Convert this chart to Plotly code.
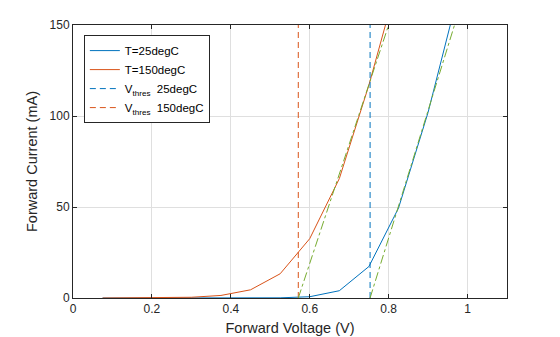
import plotly.graph_objects as go

# Data
voltage = [0.075, 0.15, 0.225, 0.3, 0.375, 0.45, 0.525, 0.6, 0.675, 0.75, 0.825, 0.9, 0.975]
current_25 = [0.0, 0.0, 0.0, 0.0, 0.01, 0.03, 0.1, 0.7, 4.0, 17.3, 49.4, 102.0, 166.0]
current_150 = [0.0, 0.02, 0.1, 0.4, 1.4, 4.5, 13.3, 32.6, 65.6, 117.0, 176.0, 240.0, 310.0]

vthres_25 = 0.753
vthres_150 = 0.571
tangent_25_x = [0.753, 0.967]
tangent_25_y = [0, 150]
tangent_150_x = [0.571, 0.800]
tangent_150_y = [0, 150]

blue = "#0072BD"
orange = "#D95319"
green = "#77AC30"

fig = go.Figure()
fig.add_trace(go.Scatter(x=voltage, y=current_25, mode="lines", name="T=25degC",
                         line=dict(color=blue, width=1)))
fig.add_trace(go.Scatter(x=voltage, y=current_150, mode="lines", name="T=150degC",
                         line=dict(color=orange, width=1)))
fig.add_trace(go.Scatter(x=[vthres_25, vthres_25], y=[0, 150], mode="lines",
                         name="V<sub>thres</sub>  25degC",
                         line=dict(color=blue, width=1, dash="6px,4px")))
fig.add_trace(go.Scatter(x=[vthres_150, vthres_150], y=[0, 150], mode="lines",
                         name="V<sub>thres</sub>  150degC",
                         line=dict(color=orange, width=1, dash="6px,4px")))
fig.add_trace(go.Scatter(x=tangent_25_x, y=tangent_25_y, mode="lines", showlegend=False,
                         line=dict(color=green, width=1, dash="dashdot")))
fig.add_trace(go.Scatter(x=tangent_150_x, y=tangent_150_y, mode="lines", showlegend=False,
                         line=dict(color=green, width=1, dash="dashdot")))

axis_common = dict(
    showline=True, linecolor="#262626", linewidth=1, mirror="ticks",
    ticks="inside", ticklen=4, tickcolor="#262626",
    showgrid=True, gridcolor="#DFDFDF", gridwidth=1,
    zeroline=False, automargin=False,
    tickfont=dict(family="Liberation Sans, Arial, sans-serif", size=12, color="#262626"),
)

fig.update_layout(
    width=560, height=337,
    margin=dict(l=73, r=53, t=25, b=39),
    paper_bgcolor="white", plot_bgcolor="white",
    font=dict(family="Liberation Sans, Arial, sans-serif", size=12, color="#262626"),
    xaxis=dict(range=[0, 1.1], tickvals=[0, 0.2, 0.4, 0.6, 0.8, 1],
               ticktext=["0", "0.2", "0.4", "0.6", "0.8", "1"],
               title=dict(text="Forward Voltage (V)", font=dict(size=14.5), standoff=7),
               **axis_common),
    yaxis=dict(range=[0, 150], tickvals=[0, 50, 100, 150],
               title=dict(text="Forward Current (mA)", font=dict(size=14.5), standoff=8),
               **axis_common),
    legend=dict(x=0.025, y=0.963, xanchor="left", yanchor="top",
                bgcolor="white", bordercolor="#262626", borderwidth=1,
                font=dict(size=11.5, color="#000000"), tracegroupgap=0,
                itemwidth=30),
    showlegend=True,
)

fig.write_html("out.html")
